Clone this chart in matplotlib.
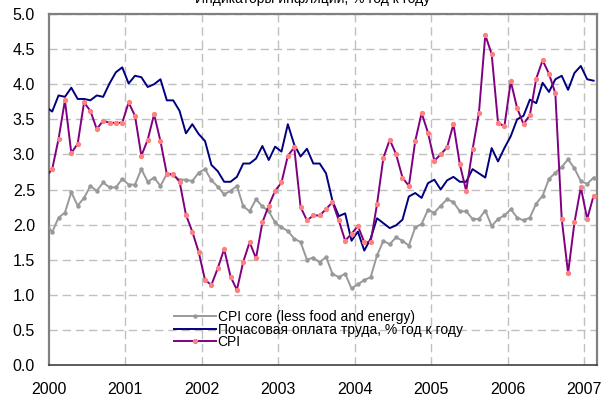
import matplotlib.pyplot as plt
import numpy as np

# Monthly data, Jan 2000 .. Mar 2007 (year-over-year, %)
cpi = [2.68, 2.79, 3.22, 3.77, 3.02, 3.15, 3.74, 3.62, 3.36, 3.48, 3.45, 3.45,
       3.45, 3.74, 3.55, 2.98, 3.21, 3.57, 3.19, 2.72, 2.72, 2.61, 2.14, 1.90,
       1.61, 1.21, 1.14, 1.38, 1.65, 1.26, 1.07, 1.47, 1.75, 1.52, 2.03, 2.27,
       2.48, 2.60, 2.98, 3.10, 2.25, 2.06, 2.13, 2.13, 2.22, 2.32, 2.06, 1.77,
       1.87, 1.98, 1.75, 1.75, 2.29, 2.95, 3.21, 3.00, 2.67, 2.55, 3.19, 3.59,
       3.31, 2.91, 3.00, 3.10, 3.43, 2.86, 2.48, 3.07, 3.59, 4.70, 4.43, 3.45,
       3.40, 4.04, 3.66, 3.43, 3.56, 4.08, 4.34, 4.15, 3.87, 2.08, 1.31, 2.03,
       2.53, 2.08, 2.41]

wages = [3.68, 3.61, 3.84, 3.82, 3.95, 3.79, 3.79, 3.77, 3.84, 3.82, 4.01, 4.17,
         4.24, 4.01, 4.12, 4.10, 3.96, 4.00, 4.07, 3.77, 3.77, 3.62, 3.30, 3.43,
         3.29, 3.19, 2.85, 2.76, 2.61, 2.61, 2.68, 2.87, 2.87, 2.94, 3.12, 2.92,
         3.11, 3.04, 3.43, 3.14, 2.97, 3.08, 2.87, 2.87, 2.73, 2.34, 2.12, 2.16,
         1.77, 1.90, 1.63, 1.80, 2.09, 2.02, 1.95, 1.99, 2.07, 2.40, 2.45, 2.38,
         2.59, 2.64, 2.50, 2.63, 2.68, 2.61, 2.61, 2.79, 2.73, 2.67, 3.09, 2.90,
         3.09, 3.26, 3.50, 3.55, 3.78, 3.73, 4.02, 3.89, 4.07, 4.12, 3.92, 4.16,
         4.26, 4.07, 4.05]

cpi_core = [2.03, 1.89, 2.10, 2.17, 2.46, 2.27, 2.38, 2.55, 2.48, 2.60, 2.53, 2.53,
            2.65, 2.57, 2.57, 2.79, 2.61, 2.67, 2.55, 2.72, 2.70, 2.64, 2.64, 2.62,
            2.74, 2.79, 2.63, 2.54, 2.43, 2.48, 2.55, 2.26, 2.19, 2.36, 2.26, 2.19,
            2.03, 1.96, 1.91, 1.80, 1.75, 1.50, 1.53, 1.46, 1.54, 1.30, 1.25, 1.30,
            1.09, 1.15, 1.21, 1.25, 1.56, 1.77, 1.72, 1.82, 1.77, 1.70, 1.96, 2.01,
            2.21, 2.17, 2.27, 2.36, 2.32, 2.19, 2.19, 2.08, 2.08, 2.20, 1.98, 2.08,
            2.13, 2.22, 2.10, 2.06, 2.10, 2.30, 2.41, 2.65, 2.74, 2.82, 2.93, 2.80,
            2.62, 2.58, 2.67]

years = [2000, 2001, 2002, 2003, 2004, 2005, 2006, 2007]
y_ticks = [0.0, 0.5, 1.0, 1.5, 2.0, 2.5, 3.0, 3.5, 4.0, 4.5, 5.0]

title = 'Индикаторы инфляции, % год к году'
label_core = 'CPI core (less food and energy)'
label_wages = 'Почасовая оплата труда, % год к году'
label_cpi = 'CPI'

plt.rcParams['font.family'] = ['Liberation Sans', 'DejaVu Sans']

# month k is plotted at the middle of the previous month mark
t = 2000 + (np.arange(len(cpi)) - 0.5) / 12.0

fig = plt.figure(figsize=(6.10, 4.01), dpi=100)
ax = fig.add_axes([49 / 610, 36 / 401, 548 / 610, 351 / 401])

grid_kw = dict(color='#c0c0c0', lw=1.0, dashes=(6, 3.5), zorder=0)
for yv in y_ticks[1:]:
    ax.axhline(yv, **grid_kw)
for xv in years[1:]:
    ax.axvline(xv, **grid_kw)

ax.plot(t, cpi_core, color='#999999', lw=1.4, marker='o', ms=2.2,
        mfc='#999999', mec='#999999', label=label_core, zorder=3)
ax.plot(t, wages, color='#000080', lw=1.4, label=label_wages, zorder=4)
ax.plot(t, cpi, color='#800080', lw=1.4, marker='o', ms=2.8,
        mfc='#ff8080', mec='#ff8080', label=label_cpi, zorder=5)

ax.set_xlim(2000, 2007.17)
ax.set_ylim(0, 5)
ax.set_xticks(years)
ax.set_xticklabels([str(y) for y in years])
ax.set_yticks(y_ticks)
ax.set_yticklabels(['%.1f' % v for v in y_ticks])
ax.tick_params(axis='both', length=0, labelsize=11.5)
ax.tick_params(axis='y', pad=10)
ax.tick_params(axis='x', pad=12)

for side in ['left', 'top', 'right']:
    ax.spines[side].set_color('#808080')
    ax.spines[side].set_linewidth(1.6)
ax.spines['bottom'].set_color('#404040')
ax.spines['bottom'].set_linewidth(1.2)

leg = ax.legend(loc='upper left', bbox_to_anchor=(0.228, 0.157), frameon=False,
                fontsize=10, handlelength=3.0, handletextpad=0.15,
                labelspacing=-0.1, borderpad=0, borderaxespad=0, markerscale=1.0)

fig.text(0.513, 1 - 3 / 401, title, ha='center', va='baseline', fontsize=10)

fig.savefig('out.png', dpi=100)
